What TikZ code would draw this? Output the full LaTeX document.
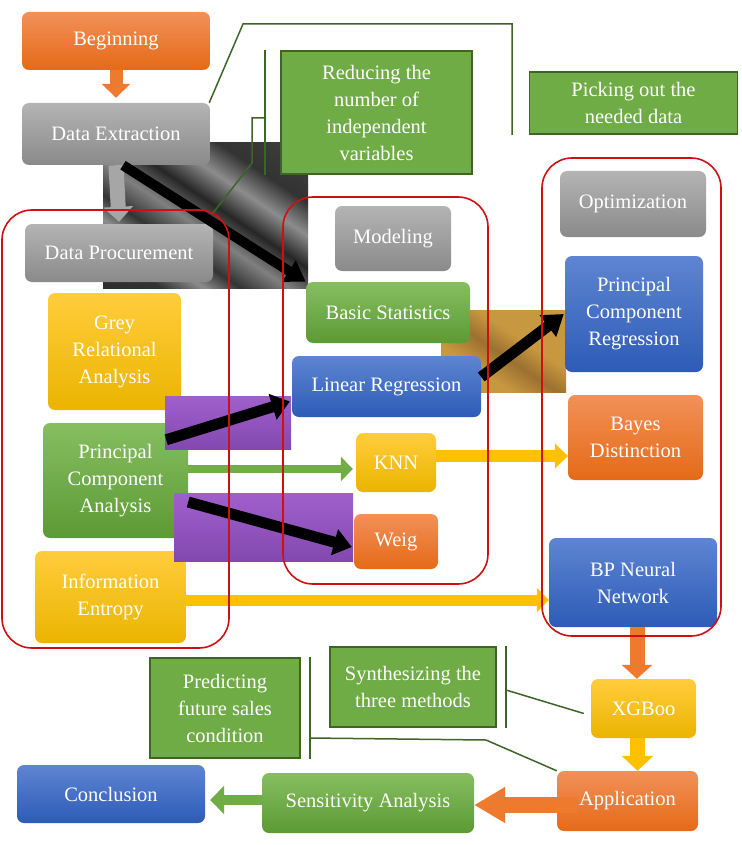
\documentclass[tikz,border=0pt]{standalone}
\usepackage{fontspec}
\setmainfont{Liberation Serif}
\usetikzlibrary{arrows.meta}
\newcommand\boxfont{\fontsize{20.5}{27}\selectfont}
\definecolor{orT}{HTML}{F29058}
\definecolor{orB}{HTML}{E56A17}
\definecolor{grT}{HTML}{B4B4B4}
\definecolor{grB}{HTML}{8A8A8A}
\definecolor{gnT}{HTML}{86BE60}
\definecolor{gnB}{HTML}{5C9A34}
\definecolor{blT}{HTML}{5E85D2}
\definecolor{blB}{HTML}{2D5BB6}
\definecolor{ylT}{HTML}{FFCD3C}
\definecolor{ylB}{HTML}{EBB400}
\definecolor{coFill}{HTML}{6FAC46}
\definecolor{coLine}{HTML}{3E6428}
\definecolor{prT}{HTML}{A060CC}
\definecolor{prB}{HTML}{8348B0}
\definecolor{frameRed}{HTML}{D01010}
\definecolor{arOr}{HTML}{EE7A2E}
\definecolor{arGr}{HTML}{A6A6A6}
\definecolor{arGn}{HTML}{70AD47}
\definecolor{arYl}{HTML}{FFC000}
\definecolor{brA}{HTML}{C89840}
\definecolor{brB}{HTML}{9C7030}
\pgfdeclarehorizontalshading{streaks}{100bp}{color(0bp)=(black!85); color(25bp)=(black!80); color(32bp)=(black!45); color(38bp)=(black!80); color(46bp)=(black!50); color(54bp)=(black!85); color(62bp)=(black!45); color(70bp)=(black!80); color(100bp)=(black!70)}
\pgfdeclarehorizontalshading{brstreak}{100bp}{color(0bp)=(brA); color(35bp)=(brA); color(48bp)=(brB); color(60bp)=(brA); color(100bp)=(brA)}
\tikzset{
  fbox/.style={rectangle, rounded corners=7pt, text=white, align=center, font=\boxfont, inner sep=2pt},
  orbox/.style={fbox, top color=orT, bottom color=orB},
  grbox/.style={fbox, top color=grT, bottom color=grB},
  gnbox/.style={fbox, top color=gnT, bottom color=gnB},
  blbox/.style={fbox, top color=blT, bottom color=blB},
  ylbox/.style={fbox, top color=ylT, bottom color=ylB},
  cobox/.style={rectangle, fill=coFill, draw=coLine, line width=1.8pt, text=white, align=center, font=\boxfont, inner sep=2pt},
  coline/.style={draw=coLine, line width=1.5pt},
  redframe/.style={draw=frameRed, line width=1.6pt, rounded corners=30pt},
  blockarrow/.style n args={4}{draw=#1, line width=#2, -{Triangle[width=#3, length=#4]}},
}
\begin{document}
\begin{tikzpicture}[x=1pt,y=-1pt]
\useasboundingbox (0,0) rectangle (741,845);

% background patches under boxes
\shade[shading=streaks, shading angle=56] (103,143) rectangle (308,288);
\shade[shading=brstreak, shading angle=56] (441,310) rectangle (566,392);

% boxes
\node[orbox, minimum width=188pt, minimum height=58pt] (begin) at (116,41) {Beginning};
\node[grbox, minimum width=188pt, minimum height=62pt] (dext) at (116,134) {Data Extraction};
\node[grbox, minimum width=188pt, minimum height=58pt] (dproc) at (119,253) {Data Procurement};
\node[cobox, minimum width=191pt, minimum height=123pt] (reduce) at (376.5,112.5) {Reducing the\\number of\\independent\\variables};
\node[cobox, minimum width=208pt, minimum height=62pt] (pick) at (633.5,103) {Picking out the\\needed data};
\node[grbox, minimum width=116pt, minimum height=65pt] (model) at (393,238.5) {Modeling};
\node[grbox, minimum width=146pt, minimum height=66pt] (opt) at (633,204) {Optimization};
\node[blbox, minimum width=138pt, minimum height=116pt] (pcr) at (634,314) {Principal\\Component\\Regression};
\node[gnbox, minimum width=164pt, minimum height=61pt] (bstat) at (388,312.5) {Basic Statistics};
\node[blbox, minimum width=189pt, minimum height=61pt] (lr) at (386.5,386.5) {Linear Regression};
\node[ylbox, minimum width=80pt, minimum height=59pt] (knn) at (396,462.5) {KNN};
\node[orbox, minimum width=84pt, minimum height=55pt] (weig) at (396,541.5) {Weig};
\node[orbox, minimum width=135pt, minimum height=85pt] (bayes) at (635.5,437.5) {Bayes\\Distinction};
\node[blbox, minimum width=168pt, minimum height=89pt] (bp) at (633,582.5) {BP Neural\\Network};
\node[ylbox, minimum width=133pt, minimum height=117pt] (gra) at (114.5,351.5) {Grey\\Relational\\Analysis};
\node[gnbox, minimum width=145pt, minimum height=115pt] (pca) at (115.5,480.5) {Principal\\Component\\Analysis};
\node[ylbox, minimum width=151pt, minimum height=92pt] (ie) at (110.5,597) {Information\\Entropy};
\node[ylbox, minimum width=105pt, minimum height=59pt] (xgb) at (643.5,708.5) {XGBoo};
\node[orbox, minimum width=141pt, minimum height=60pt] (app) at (627.5,801) {Application};
\node[gnbox, minimum width=212pt, minimum height=60pt] (sens) at (368,803) {Sensitivity Analysis};
\node[blbox, minimum width=188pt, minimum height=58pt] (concl) at (111,794) {Conclusion};
\node[cobox, minimum width=150pt, minimum height=100pt] (pred) at (225,708) {Predicting\\future sales\\condition};
\node[cobox, minimum width=166pt, minimum height=80pt] (synth) at (413,687) {Synthesizing the\\three methods};

% purple patches over boxes
\shade[top color=prT, bottom color=prB] (165,396) rectangle (291,449);
\shade[top color=prT, bottom color=prB] (174,493) rectangle (353,561);

% block arrows
\draw[blockarrow={arOr}{13pt}{28pt}{14pt}] (begin.south) -- ([yshift=5pt]dext.north);
\draw[blockarrow={arGr}{15pt}{29pt}{15pt}] (dext.south) -- ([yshift=2pt]dproc.north);
\draw[blockarrow={black}{10pt}{24pt}{20pt}] ([xshift=7pt]dext.south) -- (bstat.north west);
\draw[blockarrow={black}{11pt}{26pt}{18pt}] ([xshift=-22pt,yshift=-17pt]pca.north east) -- ([xshift=-2pt,yshift=-15pt]lr.west);
\coordinate (g1) at ([yshift=11.5pt]pca.east);
\draw[blockarrow={arGn}{8pt}{24pt}{12pt}, shorten >=3pt] (g1) -- (g1 -| knn.west);
\draw[blockarrow={black}{11pt}{26pt}{18pt}] ([yshift=-21.5pt]pca.east) -- ([xshift=-2pt,yshift=-5.5pt]weig.west);
\coordinate (k1) at ([yshift=6.5pt]knn.east);
\draw[blockarrow={arYl}{12pt}{25pt}{13pt}] (k1) -- (k1 -| bayes.west);
\draw[blockarrow={black}{11pt}{26pt}{20pt}] ([yshift=9.5pt]lr.east) -- ([xshift=-1pt]pcr.west);
\coordinate (i1) at ([yshift=-3pt]ie.east);
\draw[blockarrow={arYl}{11pt}{24pt}{12pt}] (i1) -- (i1 -| bp.west);
\coordinate (b1) at ([xshift=4pt]bp.south);
\draw[blockarrow={arOr}{15pt}{30pt}{14pt}] (b1) -- (b1 |- xgb.north);
\coordinate (x1) at ([xshift=-6pt]xgb.south);
\draw[blockarrow={arYl}{15pt}{31pt}{15pt}] (x1) -- (x1 |- app.north);
\coordinate (a1) at ([xshift=20pt,yshift=-4pt]app.west);
\draw[blockarrow={arOr}{16pt}{34pt}{31pt}] (a1) -- (a1 -| sens.east);
\coordinate (s1) at ([yshift=3pt]sens.west);
\draw[blockarrow={arGn}{10pt}{28pt}{14pt}, shorten >=5pt] (s1) -- (s1 -| concl.east);

% red frames
\draw[redframe] (2,210) rectangle (229,648);
\draw[redframe] (283,197) rectangle (488,584);
\draw[redframe] (542,158) rectangle (721,636);

% callout lines
\coordinate (c1a) at (243,24);
\coordinate (c1b) at (512,24);
\coordinate (c1c) at (512,135);
\draw[coline] ([xshift=-1pt]dext.north east) -- (c1a) -- (c1b) -- (c1c);
\coordinate (c2a) at ([xshift=-15pt]reduce.north west);
\coordinate (c2b) at ([xshift=-15pt]reduce.south west);
\draw[coline] (c2a) -- (c2b);
\coordinate (c2c) at (266,118);
\coordinate (c2d) at (252,118);
\coordinate (c2e) at (252,163);
\coordinate (c2f) at (213,213);
\draw[coline] (c2c) -- (c2d) -- (c2e) -- (c2f);
\coordinate (c3a) at ([xshift=9pt]synth.north east);
\coordinate (c3b) at ([xshift=9pt]synth.south east);
\draw[coline] (c3a) -- (c3b);
\coordinate (c3c) at (506,690);
\draw[coline] (c3c) -- ([xshift=-7pt,yshift=-5pt]xgb.west);
\coordinate (c4a) at ([xshift=9pt]pred.north east);
\coordinate (c4b) at ([xshift=9pt]pred.south east);
\draw[coline] (c4a) -- (c4b);
\coordinate (c4c) at (310,738);
\coordinate (c4d) at (486,740);
\draw[coline] (c4c) -- (c4d) -- (app.north west);
\end{tikzpicture}
\end{document}
